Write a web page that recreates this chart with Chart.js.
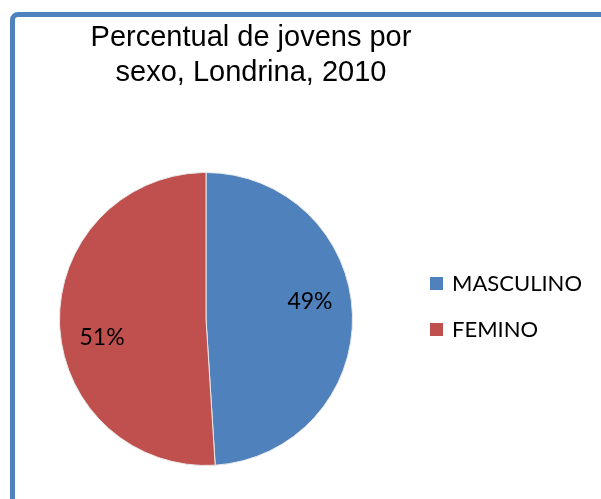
<!DOCTYPE html>
<html lang="pt">
<head>
  <meta charset="UTF-8" />
  <title>Percentual de jovens por sexo, Londrina, 2010</title>
  <script src="https://cdn.jsdelivr.net/npm/chart.js"></script>
  <style>
    html, body {
      margin: 0;
      padding: 0;
      background: #ffffff;
      overflow: hidden;
    }
    .frame {
      position: absolute;
      left: 10px;
      top: 12px;
      width: 640px;
      height: 540px;
      border: 5px solid #4f81bd;
      border-radius: 8px;
      box-sizing: border-box;
    }
    canvas {
      position: absolute;
      left: 0;
      top: 0;
    }
  </style>
</head>
<body>
  <div class="frame"></div>
  <canvas id="pie" width="601" height="499"></canvas>

  <script>
    const titleLines = ['Percentual de jovens por', 'sexo, Londrina, 2010'];
    const categories = ['MASCULINO', 'FEMINO'];
    const percents = [49, 51];
    const colors = ['#4f81bd', '#c0504d'];

    // title, slice labels and legend drawn by hand to match the excel look
    const decorations = {
      id: 'decorations',
      afterDraw(chart) {
        const ctx = chart.ctx;
        ctx.save();
        ctx.fillStyle = '#000000';

        ctx.font = '29px "Liberation Sans", Arial, sans-serif';
        ctx.textAlign = 'center';
        ctx.textBaseline = 'alphabetic';
        ctx.fillText(titleLines[0], 251, 46);
        ctx.fillText(titleLines[1], 251, 81);

        // excel "best fit" nudges the labels up / down a little
        const nudge = [-14, 15];
        const arcs = chart.getDatasetMeta(0).data;
        ctx.font = '23px Lato, "Open Sans", sans-serif';
        ctx.textBaseline = 'middle';
        arcs.forEach((arc, i) => {
          const mid = (arc.startAngle + arc.endAngle) / 2;
          const r = arc.outerRadius * 0.71;
          const x = arc.x + Math.cos(mid) * r;
          const y = arc.y + Math.sin(mid) * r;
          ctx.fillText(percents[i] + '%', x, y + nudge[i]);
        });

        ctx.font = '22px Lato, "Open Sans", sans-serif';
        ctx.textAlign = 'left';
        ctx.textBaseline = 'alphabetic';
        categories.forEach((name, i) => {
          const y = 277 + i * 46;
          ctx.fillStyle = colors[i];
          ctx.fillRect(430, y, 13, 13);
          ctx.fillStyle = '#000000';
          ctx.fillText(name, 452, y + 14);
        });
        ctx.restore();
      }
    };

    new Chart(document.getElementById('pie'), {
      type: 'pie',
      data: {
        labels: categories,
        datasets: [{
          data: percents,
          backgroundColor: colors,
          borderColor: '#e8e8e8',
          borderWidth: 1
        }]
      },
      options: {
        responsive: false,
        animation: false,
        layout: {
          padding: { left: 59, right: 248, top: 172, bottom: 33 }
        },
        plugins: {
          legend: { display: false },
          tooltip: { enabled: false },
          title: { display: false }
        }
      },
      plugins: [decorations]
    });
  </script>
</body>
</html>
